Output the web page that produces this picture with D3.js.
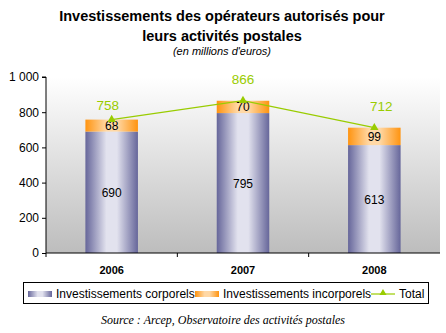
<!DOCTYPE html>
<html><head><meta charset="utf-8">
<script src="https://cdn.jsdelivr.net/npm/d3@7"></script>
<style>body{margin:0;background:#fff}svg{display:block;font-family:"Liberation Sans",Arial,sans-serif}</style>
</head><body>
<script>
const years = ["2006","2007","2008"];
const corporels = [690,795,613];
const incorporels = [68,70,99];
const totals = [758,866,712];
const yTicks = [0,200,400,600,800,1000];
const tickLabels = ["0","200","400","600","800","1 000"];

const W=446,H=333;
const svg=d3.select("body").append("svg").attr("width",W).attr("height",H);
const defs=svg.append("defs");
const bg=defs.append("linearGradient").attr("id","bg").attr("x1",0).attr("y1",0).attr("x2",0).attr("y2",1);
bg.append("stop").attr("offset","0%").attr("stop-color","#ffffff");
bg.append("stop").attr("offset","100%").attr("stop-color","#bdbdbd");
function hgrad(id,edge,light){
  const g=defs.append("linearGradient").attr("id",id).attr("x1",0).attr("y1",0).attr("x2",1).attr("y2",0);
  g.append("stop").attr("offset","0%").attr("stop-color",edge);
  g.append("stop").attr("offset","40%").attr("stop-color",light);
  g.append("stop").attr("offset","60%").attr("stop-color",light);
  g.append("stop").attr("offset","100%").attr("stop-color",edge);
}
hgrad("gCorp","#66669a","#e2e2ee");
hgrad("gInc","#ff9410","#ffd8a6");

const pL=46,pR=440,pT=77,pB=253;
const x=d3.scaleBand().domain(years).range([pL,pR]).paddingInner(0.6).paddingOuter(0.3);
const xb=d3.scaleBand().domain(years).range([pL,pR]);
const y=d3.scaleLinear().domain([0,1000]).range([pB,pT]);

svg.append("rect").attr("x",pL).attr("y",pT).attr("width",pR-pL).attr("height",pB-pT).attr("fill","url(#bg)");

// Title
svg.append("text").attr("x",222).attr("y",21).attr("text-anchor","middle").attr("font-weight","bold").attr("font-size",14.5).text("Investissements des opérateurs autorisés pour");
svg.append("text").attr("x",222).attr("y",41).attr("text-anchor","middle").attr("font-weight","bold").attr("font-size",14.5).text("leurs activités postales");
svg.append("text").attr("x",222).attr("y",55).attr("text-anchor","middle").attr("font-style","italic").attr("font-size",11).text("(en millions d'euros)");

// bars
const g=svg.append("g");
years.forEach((yr,i)=>{
  g.append("rect").attr("x",x(yr)).attr("width",x.bandwidth()).attr("y",y(corporels[i])).attr("height",y(0)-y(corporels[i])).attr("fill","url(#gCorp)");
  g.append("rect").attr("x",x(yr)).attr("width",x.bandwidth()).attr("y",y(corporels[i]+incorporels[i])).attr("height",y(0)-y(incorporels[i])).attr("fill","url(#gInc)");
  const cx=x(yr)+x.bandwidth()/2;
  g.append("text").attr("x",cx).attr("y",(y(0)+y(corporels[i]))/2+5).attr("text-anchor","middle").attr("font-size",12).text(corporels[i]);
  g.append("text").attr("x",cx).attr("y",(y(corporels[i])+y(corporels[i]+incorporels[i]))/2+4.5).attr("text-anchor","middle").attr("font-size",12).text(incorporels[i]);
});

// total line
const green="#99cc00";
const labelDx=[-4,0,7], labelDy=[-9.5,-17,-17];
const line=d3.line().x((d,i)=>xb(years[i])+xb.bandwidth()/2).y(d=>y(d));
svg.append("path").attr("d",line(totals)).attr("fill","none").attr("stroke",green).attr("stroke-width",1.2);
const tri=d3.symbol().type(d3.symbolTriangle).size(30);
totals.forEach((t,i)=>{
  const cx=xb(years[i])+xb.bandwidth()/2;
  svg.append("path").attr("d",tri()).attr("transform",`translate(${cx},${y(t)})`).attr("fill",green);
  svg.append("text").attr("x",cx+labelDx[i]).attr("y",y(t)+labelDy[i]).attr("text-anchor","middle").attr("font-size",13.5).attr("fill",green).text(t);
});

// axes
const ya=svg.append("g").attr("transform",`translate(${pL},0)`).call(d3.axisLeft(y).tickValues(yTicks).tickFormat((d,i)=>tickLabels[i]).tickSize(4).tickPadding(3));
ya.select(".domain").attr("d",`M-4,${pT}H0V${pB}`);
ya.selectAll("text").attr("font-size",12).attr("font-family","Liberation Sans, Arial, sans-serif").attr("fill","#000");
const xa=svg.append("g").attr("transform",`translate(0,${pB})`).call(d3.axisBottom(xb).tickSize(0).tickPadding(13));
xa.select(".domain").attr("d",`M${pL},0H${pR}`).attr("stroke","#000");
xa.selectAll("text").attr("font-size",11).attr("font-weight","bold").attr("font-family","Liberation Sans, Arial, sans-serif").attr("fill","#000");
[0,1,2].forEach(k=>{
  const xx=pL+k*xb.step();
  svg.append("line").attr("x1",xx).attr("x2",xx).attr("y1",pB).attr("y2",pB+4).attr("stroke","#000");
});

// legend
const lg=svg.append("g");
lg.append("rect").attr("x",23.5).attr("y",282.5).attr("width",405).attr("height",21).attr("fill","#fff").attr("stroke","#000");
lg.append("rect").attr("x",28).attr("y",291).attr("width",24).attr("height",6).attr("fill","url(#gCorp)");
lg.append("text").attr("x",56).attr("y",297.5).attr("font-size",12).text("Investissements corporels");
lg.append("rect").attr("x",195).attr("y",291).attr("width",24).attr("height",6).attr("fill","url(#gInc)");
lg.append("text").attr("x",223).attr("y",297.5).attr("font-size",12).text("Investissements incorporels");
lg.append("line").attr("x1",371).attr("x2",395).attr("y1",294).attr("y2",294).attr("stroke",green).attr("stroke-width",1.2);
lg.append("path").attr("d",d3.symbol().type(d3.symbolTriangle).size(22)()).attr("transform","translate(383,293)").attr("fill",green);
lg.append("text").attr("x",399).attr("y",297.5).attr("font-size",12).text("Total");

svg.append("text").attr("x",223).attr("y",324).attr("text-anchor","middle").attr("font-style","italic").attr("font-size",12).attr("font-family","Liberation Serif, Times New Roman, serif").text("Source : Arcep, Observatoire des activités postales");
</script>
</body></html>
